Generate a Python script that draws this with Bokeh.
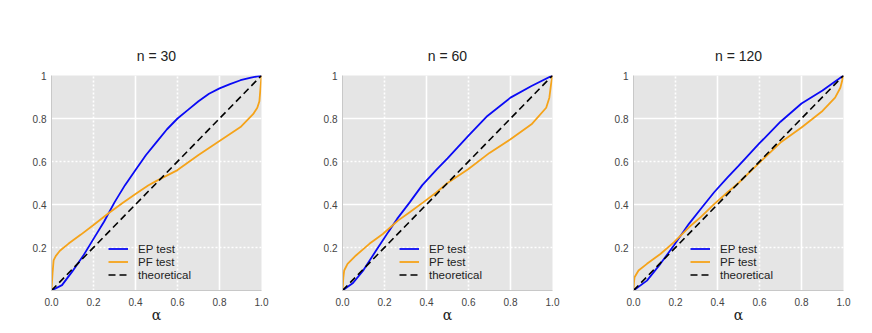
from bokeh.plotting import figure
from bokeh.layouts import row
from bokeh.models import Range1d, FixedTicker, Grid, Legend, LegendItem
from bokeh.core.properties import value
from bokeh.embed import file_html
from bokeh.resources import INLINE

titles = ["n = 30", "n = 60", "n = 120"]

# n = 30
ep30_a = [0, 0.05, 0.1, 0.15, 0.2, 0.25, 0.3, 0.35, 0.4, 0.45, 0.5, 0.55, 0.6, 0.65, 0.7, 0.75, 0.8, 0.85, 0.9, 0.95, 1.0]
ep30_v = [0, 0.025, 0.09, 0.16, 0.24, 0.32, 0.41, 0.49, 0.56, 0.63, 0.69, 0.75, 0.80, 0.84, 0.88, 0.915, 0.94, 0.96, 0.978, 0.99, 1.0]
pf30_a = [0, 0.005, 0.01, 0.02, 0.04, 0.08, 0.14, 0.2, 0.27, 0.34, 0.4, 0.46, 0.5, 0.6, 0.7, 0.8, 0.9, 0.96, 0.98, 0.99, 1.0]
pf30_v = [0, 0.08, 0.14, 0.16, 0.185, 0.217, 0.26, 0.305, 0.358, 0.408, 0.449, 0.488, 0.51, 0.56, 0.63, 0.695, 0.76, 0.82, 0.85, 0.88, 1.0]

# n = 60
ep60_a = [0, 0.05, 0.1, 0.16, 0.22, 0.26, 0.32, 0.38, 0.45, 0.5, 0.6, 0.69, 0.8, 0.9, 1.0]
ep60_v = [0, 0.035, 0.095, 0.186, 0.275, 0.333, 0.41, 0.49, 0.565, 0.615, 0.72, 0.812, 0.897, 0.951, 1.0]
pf60_a = [0, 0.004, 0.008, 0.024, 0.064, 0.128, 0.192, 0.264, 0.32, 0.384, 0.448, 0.5, 0.6, 0.7, 0.8, 0.9, 0.97, 0.985, 0.993, 1.0]
pf60_v = [0, 0.06, 0.093, 0.124, 0.163, 0.217, 0.263, 0.325, 0.364, 0.41, 0.457, 0.5, 0.565, 0.64, 0.703, 0.773, 0.85, 0.897, 0.959, 1.0]

# n = 120
ep120_a = [0, 0.064, 0.128, 0.192, 0.264, 0.32, 0.384, 0.448, 0.5, 0.6, 0.7, 0.8, 0.9, 1.0]
ep120_v = [0, 0.046, 0.124, 0.209, 0.31, 0.379, 0.457, 0.526, 0.58, 0.685, 0.785, 0.87, 0.93, 1.0]
pf120_a = [0, 0.002, 0.005, 0.024, 0.064, 0.128, 0.192, 0.264, 0.32, 0.384, 0.448, 0.5, 0.6, 0.7, 0.8, 0.9, 0.96, 0.985, 1.0]
pf120_v = [0, 0.035, 0.062, 0.093, 0.124, 0.17, 0.224, 0.294, 0.341, 0.402, 0.457, 0.5, 0.595, 0.688, 0.758, 0.835, 0.897, 0.943, 1.0]

theo = [0, 1]

x_ticks = [0, 0.2, 0.4, 0.6, 0.8, 1.0]
x_labels = ["0.0", "0.2", "0.4", "0.6", "0.8", "1.0"]
y_ticks = [0.2, 0.4, 0.6, 0.8, 1.0]
y_labels = ["0.2", "0.4", "0.6", "0.8", "1"]

series = [
    (ep30_a, ep30_v, pf30_a, pf30_v),
    (ep60_a, ep60_v, pf60_a, pf60_v),
    (ep120_a, ep120_v, pf120_a, pf120_v),
]

BLUE = "#0a0af5"
ORANGE = "#f5a31a"
BG = "#e5e5e5"

figs = []
for i, (title, (ea, ev, pa, pv)) in enumerate(zip(titles, series)):
    right = 30 if i < 2 else 20
    p = figure(frame_width=210, frame_height=215, output_backend="svg", toolbar_location=None,
               x_range=Range1d(0, 1), y_range=Range1d(0, 1),
               min_border_left=51, min_border_right=right, min_border_top=75, min_border_bottom=10,
               background_fill_color=BG, border_fill_color="white", outline_line_color=None)
    p.title.text = title
    p.title.align = "center"
    p.title.text_font = "Liberation Sans"
    p.title.text_font_size = "14px"
    p.title.text_font_style = "normal"
    p.title.text_color = "#222222"
    p.title.offset = 0
    p.title.standoff = 23

    # grids
    p.xgrid.ticker = FixedTicker(ticks=[0.4, 0.8])
    p.ygrid.ticker = FixedTicker(ticks=[0.4, 0.8])
    for g in (p.xgrid[0], p.ygrid[0]):
        g.grid_line_color = "white"
        g.grid_line_width = 1.6
    p.add_layout(Grid(dimension=0, ticker=FixedTicker(ticks=[0.2, 0.6]), grid_line_color="white",
                      grid_line_width=1.6, grid_line_dash="2 2"))
    p.add_layout(Grid(dimension=1, ticker=FixedTicker(ticks=[0.2, 0.6]), grid_line_color="white",
                      grid_line_width=1.6, grid_line_dash="2 2"))

    # axes
    p.xaxis.ticker = FixedTicker(ticks=x_ticks)
    p.xaxis.major_label_overrides = dict(zip(x_ticks, x_labels))
    p.yaxis.ticker = FixedTicker(ticks=y_ticks)
    p.yaxis.major_label_overrides = dict(zip(y_ticks, y_labels))
    for ax in (p.xaxis[0], p.yaxis[0]):
        ax.axis_line_color = "#c8c8c8"
        ax.axis_line_width = 1
        ax.major_tick_line_color = None
        ax.minor_tick_line_color = None
        ax.major_tick_out = 0
        ax.major_tick_in = 0
        ax.minor_tick_out = 0
        ax.minor_tick_in = 0
        ax.major_label_text_font = "Liberation Sans"
        ax.major_label_text_font_size = "10px"
        ax.major_label_text_color = "#444444"
    p.xaxis.major_label_standoff = 7
    p.yaxis.major_label_standoff = 5
    p.xaxis.axis_label = "α"
    p.xaxis.axis_label_text_font = "DejaVu Serif"
    p.xaxis.axis_label_text_font_style = "normal"
    p.xaxis.axis_label_text_font_size = "14px"
    p.xaxis.axis_label_text_color = "#222222"
    p.xaxis.axis_label_standoff = -2

    r_ep = p.line(ea, ev, line_color=BLUE, line_width=1.8)
    r_pf = p.line(pa, pv, line_color=ORANGE, line_width=1.8)
    r_th = p.line(theo, theo, line_color="black", line_width=1.6, line_dash="7 4")
    r_wh = p.line([], [], line_color="white", line_width=1.6)

    leg = Legend(items=[
        LegendItem(label="EP test", renderers=[r_ep]),
        LegendItem(label="PF test", renderers=[r_pf]),
        LegendItem(label="theoretical", renderers=[r_th]),
        LegendItem(label=value(" "), renderers=[r_wh]),
    ], location=(57, -4))
    leg.background_fill_alpha = 0
    leg.border_line_alpha = 0
    leg.label_text_font = "Liberation Sans"
    leg.label_text_font_size = "11.5px"
    leg.label_text_color = "#222222"
    leg.glyph_width = 20
    leg.glyph_height = 13
    leg.label_height = 13
    leg.spacing = 0
    leg.padding = 0
    leg.margin = 0
    leg.label_standoff = 10
    p.add_layout(leg, "center")
    figs.append(p)

layout = row(*figs, spacing=0)
open("out.html", "w").write(file_html(layout, INLINE))
